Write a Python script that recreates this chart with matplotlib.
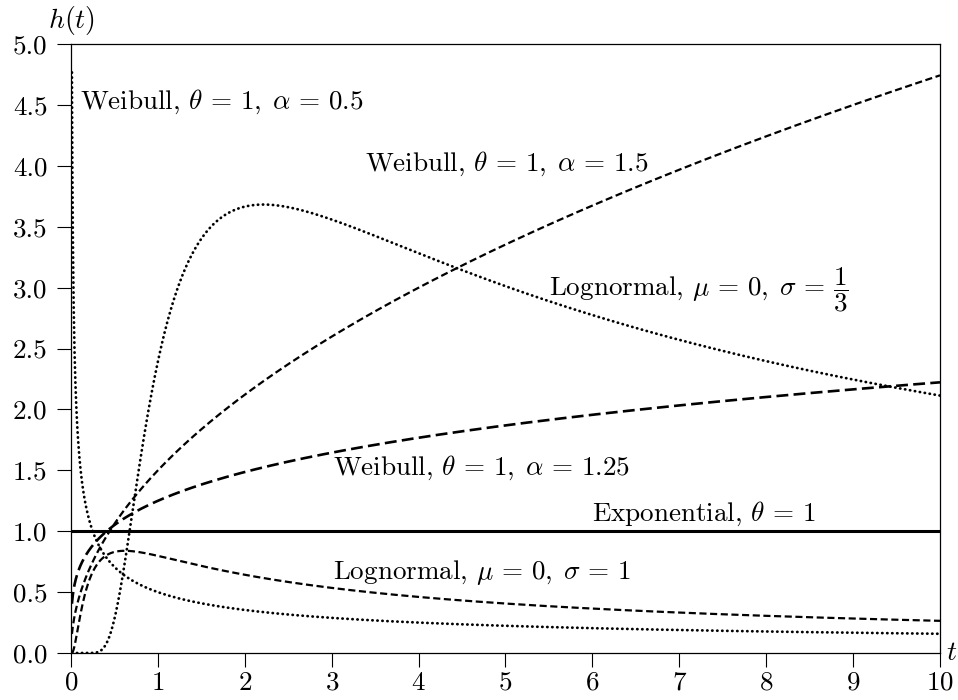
import math
import matplotlib
matplotlib.use("Agg")
import matplotlib.pyplot as plt
import numpy as np

plt.rcParams['font.family'] = 'serif'
plt.rcParams['font.serif'] = ['cmr10']
plt.rcParams['mathtext.fontset'] = 'cm'
plt.rcParams['axes.formatter.use_mathtext'] = True

# distribution parameters shown in the labels
exp_theta = 1.0
weib_theta = [1.0, 1.0, 1.0]
weib_alpha = [0.5, 1.5, 1.25]
logn_mu = [0.0, 0.0]
logn_sigma = [1.0 / 3.0, 1.0]

x_ticks = [0, 1, 2, 3, 4, 5, 6, 7, 8, 9, 10]
y_ticks = [0.0, 0.5, 1.0, 1.5, 2.0, 2.5, 3.0, 3.5, 4.0, 4.5, 5.0]

labels = [
    (r'Weibull, $\theta \,=\, 1,\; \alpha \,=\, 0.5$', 0.1, 4.53),
    (r'Weibull, $\theta \,=\, 1,\; \alpha \,=\, 1.5$', 3.38, 4.02),
    (r'Lognormal, $\mu \,=\, 0,\; \sigma \,=\, \dfrac{1}{3}$', 5.5, 2.98),
    (r'Weibull, $\theta \,=\, 1,\; \alpha \,=\, 1.25$', 3.02, 1.52),
    (r'Exponential, $\theta \,=\, 1$', 6.0, 1.14),
    (r'Lognormal, $\mu \,=\, 0,\; \sigma \,=\, 1$', 3.02, 0.665),
]


def weibull_h(t, theta, alpha):
    return alpha / theta * (t / theta) ** (alpha - 1)


def lognormal_h(t, mu, sigma):
    z = (np.log(t) - mu) / sigma
    pdf = np.exp(-0.5 * z ** 2) / (t * sigma * np.sqrt(2 * np.pi))
    surv = np.array([0.5 * math.erfc(v / math.sqrt(2)) for v in z])
    return pdf / surv


t = np.linspace(0.011, 10, 2000)

fig = plt.figure(figsize=(9.58, 7.0), dpi=100)
ax = fig.add_axes([0.0741, 0.0671, 0.9071, 0.8699])

dot = dict(color='black', lw=2.0, ls=(0, (0.1, 1.7)), dash_capstyle='round')
ax.plot([0, 10], [1 / exp_theta] * 2, color='black', lw=2.2, solid_capstyle='butt')
ax.plot(t, weibull_h(t, weib_theta[0], weib_alpha[0]), **dot)
ax.plot(t, weibull_h(t, weib_theta[1], weib_alpha[1]), color='black', lw=1.6, ls=(0, (3.2, 1.6)))
ax.plot(t, weibull_h(t, weib_theta[2], weib_alpha[2]), color='black', lw=1.9, ls=(0, (4.5, 2.0)))
ax.plot(t, lognormal_h(t, logn_mu[0], logn_sigma[0]), **dot)
ax.plot(t, lognormal_h(t, logn_mu[1], logn_sigma[1]), color='black', lw=1.6, ls=(0, (3.2, 1.6)))

for txt, x, y in labels:
    ax.text(x, y, txt, fontsize=19.5, va='center', ha='left')

ax.set_xlim(0, 10)
ax.set_ylim(0, 5)
ax.set_xticks(x_ticks)
ax.set_yticks(y_ticks)
ax.set_yticklabels([f'{v:.1f}' for v in y_ticks])
ax.tick_params(direction='out', length=10, width=0.8, labelsize=19.5)
ax.tick_params(axis='y', pad=7)
ax.tick_params(axis='x', pad=3)
for s in ax.spines.values():
    s.set_linewidth(0.9)

ax.text(0, 5.06, r'$h(t)$', fontsize=20, ha='center', va='bottom')
ax.text(10.07, 0, r'$t$', fontsize=20, ha='left', va='center')

fig.savefig('out.png', dpi=100)
